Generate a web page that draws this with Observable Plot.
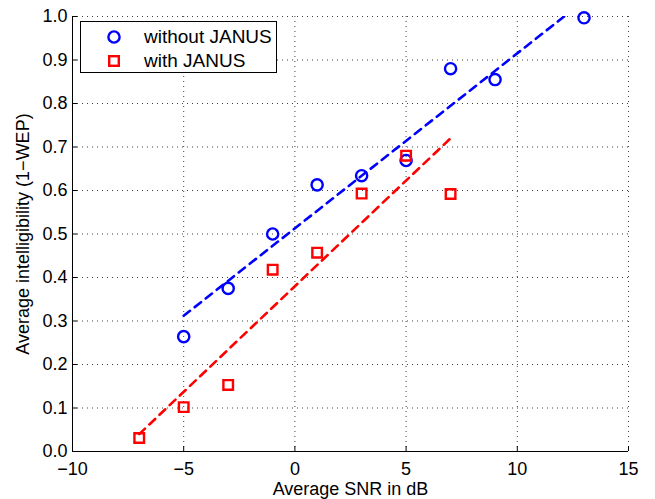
<!DOCTYPE html>
<html>
<head>
<meta charset="utf-8">
<script src="https://cdn.jsdelivr.net/npm/d3@7"></script>
<script src="https://cdn.jsdelivr.net/npm/@observablehq/plot@0.6"></script>
<style>
  html, body { margin: 0; padding: 0; background: #fff; }
  #wrap { position: relative; width: 655px; height: 499px; font-family: "Liberation Sans", Arial, sans-serif; }
  #legend { position: absolute; left: 80px; top: 21px; width: 195px; height: 50px; border: 1px solid #000; background: #fff; }
  #legend .row { position: absolute; left: 0; height: 20px; display: flex; align-items: center; font-size: 19px; color: #000; }
  #legend svg { margin-left: 25px; margin-right: 22px; }
</style>
</head>
<body>
<div id="wrap"></div>
<script>
// ---- data ----
const snrWithout = [-5, -3, -1, 1, 3, 5, 7, 9, 13];
const intWithout = [0.264, 0.375, 0.500, 0.613, 0.634, 0.669, 0.880, 0.855, 0.997];
const snrWith = [-7, -5, -3, -1, 1, 3, 5, 7];
const intWith = [0.031, 0.102, 0.153, 0.418, 0.457, 0.593, 0.680, 0.592];
const fitWithoutX = [-5, 13];
const fitWithoutY = [0.312, 1.036];
const fitWithX = [-7, 7];
const fitWithY = [0.040, 0.720];
const xTicks = [-10, -5, 0, 5, 10, 15];
const yTicks = [0, 0.1, 0.2, 0.3, 0.4, 0.5, 0.6, 0.7, 0.8, 0.9, 1.0];
const seriesNames = ["without JANUS", "with JANUS"];

const ptsWithout = snrWithout.map((x, i) => ({x, y: intWithout[i]}));
const ptsWith = snrWith.map((x, i) => ({x, y: intWith[i]}));
const lineWithout = fitWithoutX.map((x, i) => ({x, y: fitWithoutY[i]}));
const lineWith = fitWithX.map((x, i) => ({x, y: fitWithY[i]}));

const BLUE = "#0000ff", RED = "#ff0000";

const chart = Plot.plot({
  width: 655,
  height: 499,
  marginLeft: 72,
  marginRight: 27,
  marginTop: 16,
  marginBottom: 48,
  style: {fontSize: "18px", fontFamily: "'Liberation Sans', Arial, sans-serif", color: "#000", background: "#fff"},
  x: {domain: [-10, 15]},
  y: {domain: [0, 1]},
  marks: [
    Plot.gridX(xTicks, {stroke: "#000", strokeOpacity: 0.75, strokeDasharray: "1,4"}),
    Plot.gridY(yTicks, {stroke: "#000", strokeOpacity: 0.75, strokeDasharray: "1,4"}),
    Plot.axisX(xTicks, {tickSize: -5, tickPadding: 16, fontSize: 18, tickFormat: d => d3.format("")(d).replace("-", "\u2212"),
      label: "Average SNR in dB", labelAnchor: "center", labelArrow: "none", labelOffset: 43}),
    Plot.axisY(yTicks, {tickSize: -5, tickPadding: 10, fontSize: 18, tickFormat: d3.format(".1f"),
      label: "Average intelligibility (1\u2212WEP)", labelAnchor: "center", labelArrow: "none", labelOffset: 56}),
    Plot.ruleX([-10], {stroke: "#000", strokeWidth: 1}),
    Plot.ruleY([0], {stroke: "#000", strokeWidth: 1}),
    Plot.line(lineWithout, {x: "x", y: "y", stroke: BLUE, strokeWidth: 2.6, strokeDasharray: "8,6", clip: true}),
    Plot.line(lineWith, {x: "x", y: "y", stroke: RED, strokeWidth: 2.6, strokeDasharray: "8,6", clip: true}),
    Plot.dot(ptsWithout, {x: "x", y: "y", r: 5.6, stroke: BLUE, strokeWidth: 2.4, fill: "none"}),
    Plot.dot(ptsWith, {x: "x", y: "y", r: 5.4, symbol: "square", stroke: RED, strokeWidth: 2.4, fill: "none"})
  ]
});

const wrap = document.getElementById("wrap");
wrap.appendChild(chart);

const legend = document.createElement("div");
legend.id = "legend";
legend.innerHTML = `
  <div class="row" style="top:5px">
    <svg width="16" height="16" viewBox="-8 -8 16 16"><circle r="5.6" fill="none" stroke="${BLUE}" stroke-width="2.4"/></svg>
    <span>${seriesNames[0]}</span>
  </div>
  <div class="row" style="top:29px">
    <svg width="16" height="16" viewBox="-8 -8 16 16"><rect x="-4.8" y="-4.8" width="9.6" height="9.6" fill="none" stroke="${RED}" stroke-width="2.4"/></svg>
    <span>${seriesNames[1]}</span>
  </div>`;
wrap.appendChild(legend);
</script>
</body>
</html>
